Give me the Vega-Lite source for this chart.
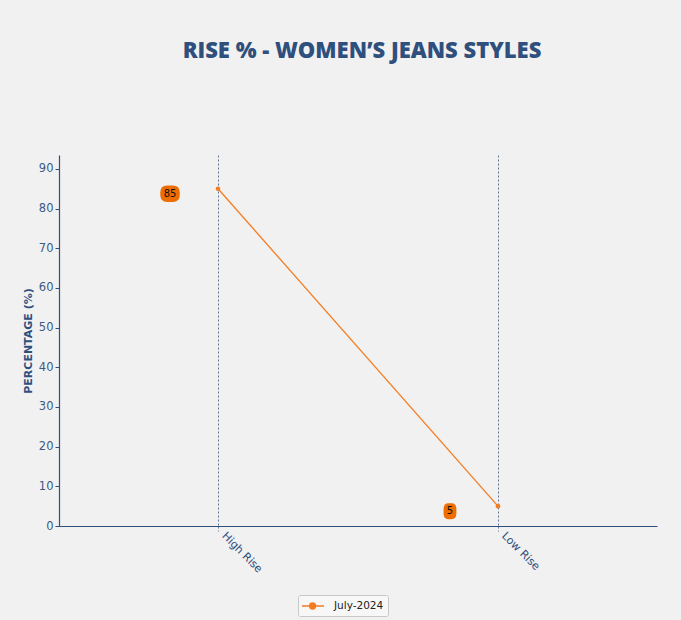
{
  "$schema": "https://vega.github.io/schema/vega-lite/v6.json",
  "autosize": "none",
  "width": 598,
  "height": 371,
  "padding": {"left": 59, "top": 155, "right": 24, "bottom": 94},
  "background": "#f1f1f2",
  "config": {"view": {"stroke": null}},
  "data": {"values": [
    {"Rise": "High Rise", "value": 85, "series": "July-2024"},
    {"Rise": "Low Rise", "value": 5, "series": "July-2024"}
  ]},
  "title": {
    "text": "RISE % - WOMEN’S JEANS STYLES",
    "font": "Open Sans",
    "fontSize": 22,
    "fontWeight": 800,
    "color": "#2f4f7d",
    "anchor": "middle",
    "dx": 4,
    "offset": 92
  },
  "encoding": {
    "x": {
      "field": "Rise", "type": "nominal",
      "scale": {"type": "point", "padding": 0.568},
      "axis": {
        "title": null, "labelAngle": 45, "labelAlign": "left", "labelBaseline": "middle",
        "labelFont": "DejaVu Sans", "labelFontSize": 11, "labelColor": "#2f4f7d",
        "labelPadding": 3, "labelOffset": 5,
        "grid": true, "gridDash": [2, 2], "gridColor": "#5f7596", "gridWidth": 1,
        "tickDash": [2, 2], "tickColor": "#5f7596", "tickSize": 5,
        "domainColor": "#2f4f7d", "domainWidth": 1.2
      }
    },
    "y": {
      "field": "value", "type": "quantitative",
      "scale": {"domain": [0, 93.5], "nice": false},
      "axis": {
        "title": "PERCENTAGE (%)", "titleFont": "DejaVu Sans", "titleFontSize": 11,
        "titleFontWeight": "bold", "titleColor": "#2f4f7d", "titlePadding": 5,
        "values": [0, 10, 20, 30, 40, 50, 60, 70, 80, 90],
        "labelFont": "DejaVu Sans", "labelFontSize": 11.5, "labelColor": "#3e5a82",
        "grid": false, "tickColor": "#2f4f7d", "tickSize": 4,
        "domainColor": "#2f4f7d", "domainWidth": 1.2
      }
    }
  },
  "layer": [
    {
      "mark": {"type": "line", "strokeWidth": 1.3, "point": {"filled": true, "size": 22, "color": "#f47c20"}},
      "encoding": {
        "color": {
          "field": "series", "type": "nominal",
          "scale": {"range": ["#f47c20"]},
          "legend": {
            "title": null, "orient": "none", "legendX": 239, "legendY": 440,
            "labelFont": "DejaVu Sans", "labelFontSize": 10.5, "labelColor": "#222222",
            "labelOffset": 18,
            "symbolType": "M -1.17 0 L 2.5 0 M 1.1 0 A 0.5 0.5 0 1 1 0.1 0 A 0.5 0.5 0 1 1 1.1 0 Z",
            "symbolSize": 144, "symbolStrokeWidth": 1.3, "symbolFillColor": "#f47c20",
            "strokeColor": "#c8c8c8", "fillColor": "#f7f7f7", "padding": 4, "cornerRadius": 2
          }
        }
      }
    },
    {
      "mark": {"type": "point", "filled": true, "color": "#ee6d02", "opacity": 1, "xOffset": -48, "yOffset": 5},
      "encoding": {
        "shape": {
          "condition": {"test": "datum.value >= 10", "value": "M -0.3 -0.84 L 0.3 -0.84 Q 1 -0.84 1 -0.14 L 1 0.14 Q 1 0.84 0.3 0.84 L -0.3 0.84 Q -1 0.84 -1 0.14 L -1 -0.14 Q -1 -0.84 -0.3 -0.84 Z"},
          "value": "M -0.2 -1 L 0.2 -1 Q 0.8 -1 0.8 -0.3 L 0.8 0.3 Q 0.8 1 0.2 1 L -0.2 1 Q -0.8 1 -0.8 0.3 L -0.8 -0.3 Q -0.8 -1 -0.2 -1 Z"
        },
        "size": {"condition": {"test": "datum.value >= 10", "value": 380}, "value": 256}
      }
    },
    {
      "mark": {"type": "text", "font": "DejaVu Sans", "fontSize": 10, "color": "#111111", "xOffset": -48, "yOffset": 5, "baseline": "middle", "align": "center"},
      "encoding": {"text": {"field": "value", "type": "quantitative"}}
    }
  ]
}
